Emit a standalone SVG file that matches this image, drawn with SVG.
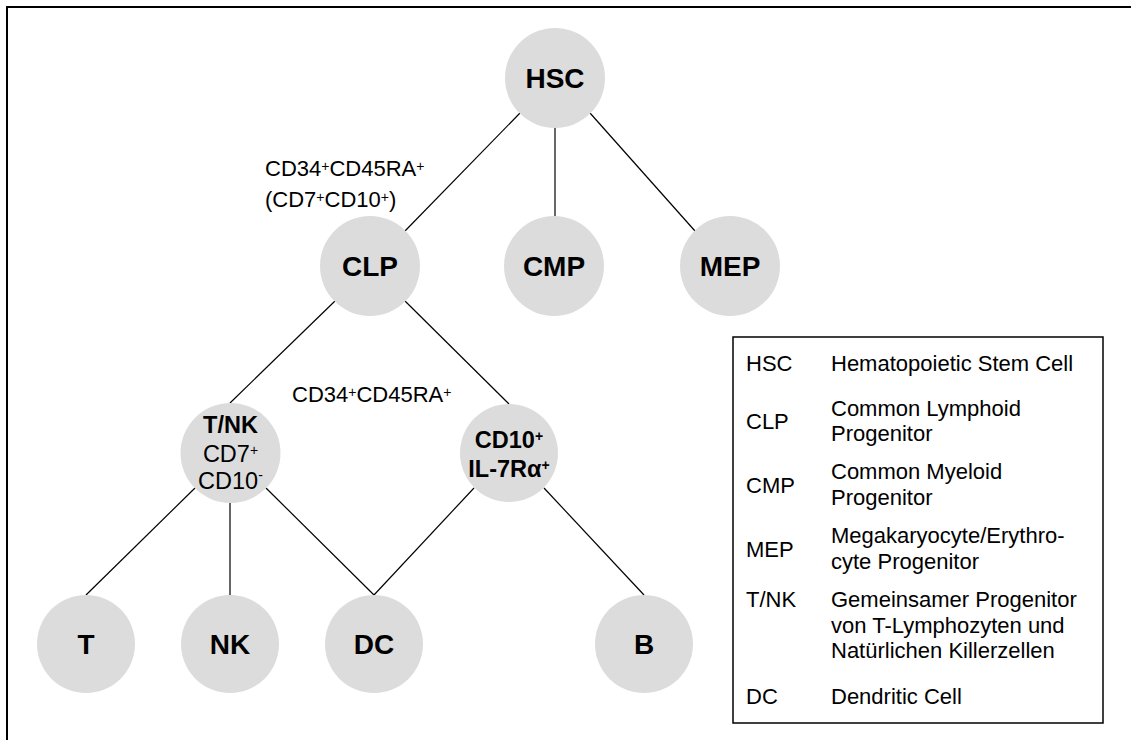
<svg xmlns="http://www.w3.org/2000/svg" width="1131" height="740" viewBox="0 0 1131 740">
<style>
.node circle{fill:#dcdcdc;stroke:none}
.lbl{font-family:"Liberation Sans",Arial,sans-serif;font-weight:bold;font-size:28px;text-anchor:middle;fill:#000}
.sm{font-family:"Liberation Sans",Arial,sans-serif;font-size:23.5px;text-anchor:middle;fill:#000}
.smb{font-weight:bold}
.ann{font-family:"Liberation Sans",Arial,sans-serif;font-size:22px;fill:#000}
.leg{font-family:"Liberation Sans",Arial,sans-serif;font-size:22px;fill:#000}
.sup{font-size:14px}
#connectors line{stroke:#000;stroke-width:1.2}
</style>
<rect width="1131" height="740" fill="#fff"/>
<path d="M7,740 V7 H1131" fill="none" stroke="#000" stroke-width="2"/>

<g id="connectors">
<line x1="520" y1="113" x2="405" y2="231"/>
<line x1="555" y1="128" x2="555" y2="216"/>
<line x1="590" y1="113" x2="695" y2="231"/>
<line x1="335" y1="301" x2="230" y2="403"/>
<line x1="405" y1="301" x2="509" y2="404"/>
<line x1="195" y1="488" x2="86" y2="595"/>
<line x1="230" y1="503" x2="230" y2="595"/>
<line x1="266" y1="488" x2="374" y2="595"/>
<line x1="474" y1="488" x2="374" y2="595"/>
<line x1="544" y1="488" x2="644" y2="595"/>
</g>

<g id="HSC" class="node"><circle cx="555" cy="78" r="50"/><text class="lbl" x="555" y="88">HSC</text></g>
<g id="CLP" class="node"><circle cx="370" cy="266" r="50"/><text class="lbl" x="370" y="276">CLP</text></g>
<g id="CMP" class="node"><circle cx="554" cy="266" r="50"/><text class="lbl" x="554" y="276">CMP</text></g>
<g id="MEP" class="node"><circle cx="730" cy="266" r="50"/><text class="lbl" x="730" y="276">MEP</text></g>
<g id="TNK" class="node"><circle cx="230.5" cy="453" r="50"/>
<text class="sm smb" x="230.5" y="433">T/NK</text>
<text class="sm" x="230.5" y="462">CD7<tspan class="sup" dy="-7">+</tspan></text>
<text class="sm" x="230.5" y="489">CD10<tspan class="sup" dy="-9">-</tspan></text>
</g>
<g id="CD10" class="node"><circle cx="509" cy="453" r="49"/>
<text class="sm smb" x="509" y="448">CD10<tspan class="sup" dy="-7">+</tspan></text>
<text class="sm smb" x="509" y="477">IL-7Rα<tspan class="sup" dy="-7">+</tspan></text>
</g>
<g id="T" class="node"><circle cx="86" cy="644" r="49"/><text class="lbl" x="86" y="654">T</text></g>
<g id="NK" class="node"><circle cx="230" cy="644" r="49"/><text class="lbl" x="230" y="654">NK</text></g>
<g id="DC" class="node"><circle cx="374" cy="644" r="49"/><text class="lbl" x="374" y="654">DC</text></g>
<g id="B" class="node"><circle cx="644" cy="644" r="49"/><text class="lbl" x="644" y="654">B</text></g>

<g id="annotations">
<text class="ann" x="265" y="176">CD34<tspan class="sup" dy="-5">+</tspan><tspan dy="5">CD45RA</tspan><tspan class="sup" dy="-5">+</tspan></text>
<text class="ann" x="265" y="207">(CD7<tspan class="sup" dy="-5">+</tspan><tspan dy="5">CD10</tspan><tspan class="sup" dy="-5">+</tspan><tspan dy="5">)</tspan></text>
<text class="ann" x="292" y="402">CD34<tspan class="sup" dy="-5">+</tspan><tspan dy="5">CD45RA</tspan><tspan class="sup" dy="-5">+</tspan></text>
</g>

<g id="legend">
<rect x="733" y="337" width="370" height="386" fill="none" stroke="#000" stroke-width="1.5"/>
<g class="leg">
<text x="746" y="371">HSC</text><text x="831" y="371">Hematopoietic Stem Cell</text>
<text x="746" y="429">CLP</text><text x="831" y="416">Common Lymphoid</text><text x="831" y="441">Progenitor</text>
<text x="746" y="493">CMP</text><text x="831" y="479">Common Myeloid</text><text x="831" y="505">Progenitor</text>
<text x="746" y="557">MEP</text><text x="831" y="543">Megakaryocyte/Erythro-</text><text x="831" y="569">cyte Progenitor</text>
<text x="746" y="607">T/NK</text><text x="831" y="607">Gemeinsamer Progenitor</text><text x="831" y="633">von T-Lymphozyten und</text><text x="831" y="658">Natürlichen Killerzellen</text>
<text x="746" y="704">DC</text><text x="831" y="704">Dendritic Cell</text>
</g>
</g>
</svg>
